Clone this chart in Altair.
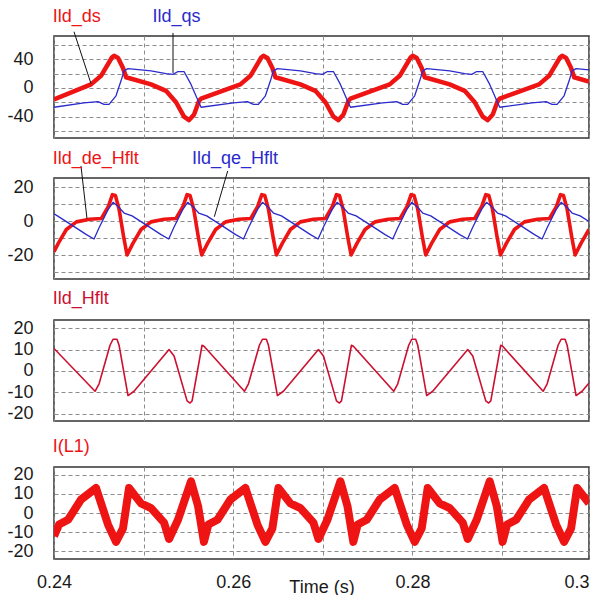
import altair as alt
import pandas as pd

# ---------------- data (time in ms) ----------------
ds_t = [240.00, 244.13, 245.25, 246.48, 246.70, 247.15, 247.70, 248.04, 250.83, 252.50, 253.62, 254.51, 255.07, 255.63, 256.19, 256.41,
        260.80, 261.92, 263.15, 263.37, 263.82, 264.37, 264.71, 267.50, 269.17, 270.29, 271.18, 271.74, 272.30, 272.86, 273.08,
        277.46, 278.58, 279.81, 280.03, 280.48, 281.03, 281.37, 284.16, 285.83, 286.95, 287.84, 288.40, 288.96, 289.52, 289.74,
        294.13, 295.25, 296.48, 296.70, 297.15, 297.70, 298.04, 299.70]
ds_v = [-16, 5, 17, 43, 45, 42, 28, 15, 5, -4, -20, -40, -45, -37, -18, -15,
        5, 17, 43, 45, 42, 28, 15, 5, -4, -20, -40, -45, -37, -18, -15,
        5, 17, 43, 45, 42, 28, 15, 5, -4, -20, -40, -45, -37, -18, -15,
        5, 17, 43, 45, 42, 28, 15, 9]

qs_t = [240.00, 243.35, 244.91, 245.58, 246.14, 246.92, 247.48, 247.82, 248.26, 250.83, 252.50, 253.28, 253.84, 254.51, 255.29, 256.08, 256.41,
        260.02, 261.58, 262.25, 262.81, 263.59, 264.15, 264.49, 264.93, 267.50, 269.17, 269.95, 270.51, 271.18, 271.96, 272.75, 273.08,
        276.68, 278.24, 278.91, 279.47, 280.25, 280.81, 281.15, 281.59, 284.16, 285.83, 286.61, 287.17, 287.84, 288.62, 289.41, 289.74,
        293.35, 294.91, 295.58, 296.14, 296.92, 297.48, 297.82, 298.26, 299.70]
qs_v = [-27, -21, -19, -23, -23, -11, 10, 24, 27, 24, 20, 19, 23, 23, 5, -18, -27,
        -21, -19, -23, -23, -11, 10, 24, 27, 24, 20, 19, 23, 23, 5, -18, -27,
        -21, -19, -23, -23, -11, 10, 24, 27, 24, 20, 19, 23, 23, 5, -18, -27,
        -21, -19, -23, -23, -11, 10, 24, 27, 25.3]

de_t = [240.00, 240.49, 241.38, 242.50, 243.95, 245.29, 246.07,
        246.52, 246.85, 247.26, 247.76, 248.15, 248.82, 249.71, 250.83, 252.28, 253.62, 254.40,
        254.85, 255.18, 255.59, 256.09, 256.48, 257.15, 258.04, 259.16, 260.61, 261.95, 262.73,
        263.19, 263.52, 263.93, 264.43, 264.82, 265.49, 266.38, 267.50, 268.95, 270.29, 271.07,
        271.52, 271.85, 272.26, 272.76, 273.15, 273.82, 274.71, 275.83, 277.28, 278.62, 279.40,
        279.85, 280.18, 280.59, 281.09, 281.48, 282.15, 283.04, 284.16, 285.61, 286.95, 287.73,
        288.19, 288.52, 288.93, 289.43, 289.82, 290.49, 291.38, 292.50, 293.95, 295.29, 296.07,
        296.52, 296.85, 297.26, 297.76, 298.15, 298.82, 299.70]
de_v = [-18, -13, -5, -0.5, 1, 1.5, 8.6,
        15.5, 15, 7, -9, -20, -13, -5, -0.5, 1, 1.5, 8.6,
        15.5, 15, 7, -9, -20, -13, -5, -0.5, 1, 1.5, 8.6,
        15.5, 15, 7, -9, -20, -13, -5, -0.5, 1, 1.5, 8.6,
        15.5, 15, 7, -9, -20, -13, -5, -0.5, 1, 1.5, 8.6,
        15.5, 15, 7, -9, -20, -13, -5, -0.5, 1, 1.5, 8.6,
        15.5, 15, 7, -9, -20, -13, -5, -0.5, 1, 1.5, 8.6,
        15.5, 15, 7, -9, -20, -13, -5]

qe_t = [240.00, 240.38, 242.16, 243.62,
        244.47, 245.03, 246.03, 246.59, 247.15, 247.82, 248.71, 250.49, 251.95,
        252.80, 253.36, 254.36, 254.92, 255.48, 256.15, 257.04, 258.82, 260.28,
        261.14, 261.70, 262.70, 263.26, 263.82, 264.49, 265.38, 267.16, 268.62,
        269.47, 270.03, 271.03, 271.59, 272.15, 272.82, 273.71, 275.49, 276.95,
        277.80, 278.36, 279.36, 279.92, 280.48, 281.15, 282.04, 283.82, 285.28,
        286.14, 286.70, 287.70, 288.26, 288.82, 289.49, 290.38, 292.16, 293.62,
        294.47, 295.03, 296.03, 296.59, 297.15, 297.82, 298.71, 299.70]
qe_v = [4.3, 3, -3, -8,
        -10.6, -4, 6.7, 11, 8.6, 4.7, 3, -3, -8,
        -10.6, -4, 6.7, 11, 8.6, 4.7, 3, -3, -8,
        -10.6, -4, 6.7, 11, 8.6, 4.7, 3, -3, -8,
        -10.6, -4, 6.7, 11, 8.6, 4.7, 3, -3, -8,
        -10.6, -4, 6.7, 11, 8.6, 4.7, 3, -3, -8,
        -10.6, -4, 6.7, 11, 8.6, 4.7, 3, -3, -8,
        -10.6, -4, 6.7, 11, 8.6, 4.7, 3, -0.3]

hf_t = [240.00,
        244.58, 245.03, 246.25, 246.59, 247.03, 247.26, 248.26, 248.93, 252.84, 253.40, 254.85, 255.18, 255.41, 256.52, 256.74,
        261.25, 261.70, 262.92, 263.26, 263.70, 263.93, 264.93, 265.60, 269.51, 270.07, 271.52, 271.85, 272.08, 273.19, 273.41,
        277.91, 278.36, 279.58, 279.92, 280.36, 280.59, 281.59, 282.26, 286.17, 286.73, 288.18, 288.51, 288.74, 289.85, 290.07,
        294.58, 295.03, 296.25, 296.59, 297.03, 297.26, 298.26, 298.93, 299.70]
hf_v = [10.5,
        -9.5, -6, 12, 14.8, 14.8, 12, -11.5, -9.5, 10, 7, -14, -15, -14, 12, 11.5,
        -9.5, -6, 12, 14.8, 14.8, 12, -11.5, -9.5, 10, 7, -14, -15, -14, 12, 11.5,
        -9.5, -6, 12, 14.8, 14.8, 12, -11.5, -9.5, 10, 7, -14, -15, -14, 12, 11.5,
        -9.5, -6, 12, 14.8, 14.8, 12, -11.5, -9.5, -5.7]

il_t = [240.00,
        240.56, 241.57, 243.02, 244.69, 246.03, 246.92, 247.70, 248.37, 249.71, 250.83, 252.28, 252.84, 253.84, 255.29, 256.08, 256.73,
        257.23, 258.24, 259.69, 261.36, 262.70, 263.59, 264.37, 265.04, 266.38, 267.50, 268.95, 269.51, 270.51, 271.96, 272.75, 273.40,
        273.89, 274.90, 276.35, 278.02, 279.36, 280.25, 281.03, 281.70, 283.04, 284.16, 285.61, 286.17, 287.17, 288.62, 289.41, 290.06,
        290.56, 291.57, 293.02, 294.69, 296.03, 296.92, 297.70, 298.37, 299.70]
il_v = [-12,
        -6, -3.5, 7, 13, -6, -15, -8, 13, 5, 2.5, -5, -13.5, -3.5, 16.5, 3.5, -15,
        -6, -3.5, 7, 13, -6, -15, -8, 13, 5, 2.5, -5, -13.5, -3.5, 16.5, 3.5, -15,
        -6, -3.5, 7, 13, -6, -15, -8, 13, 5, 2.5, -5, -13.5, -3.5, 16.5, 3.5, -15,
        -6, -3.5, 7, 13, -6, -15, -8, 13, 5]

# labels and leader lines (data coordinates)
lab1 = {"t": [239.85, 251.0], "v": [91.6, 91.6], "text": ["Ild_ds", "Ild_qs"], "c": ["red", "blue"]}
lead1 = {"t": [242.23, 253.28], "v": [78.7, 77.0], "t2": [244.13, 253.28], "v2": [6.0, 21.0]}
lab2 = {"t": [239.85, 255.4], "v": [33.7, 33.7], "text": ["Ild_de_Hflt", "Ild_qe_Hflt"], "c": ["red", "blue"]}
lead2 = {"t": [243.01, 259.38], "v": [32.4, 29.4], "t2": [243.68, 257.89], "v2": [1.5, 2.5]}
lab3 = {"t": [239.85], "v": [31.2], "text": ["Ild_Hflt"], "c": ["darkred"]}
lab4 = {"t": [239.85], "v": [31.7], "text": ["I(L1)"], "c": ["red"]}

x_domain = [240, 299.7]
x_ticks = [240, 250, 260, 270, 280, 290, 299.7]

# ---------------- styling ----------------
FONT = "Liberation Sans"
RED = "#ee1414"
BLUE = "#2b2bcc"
DRED = "#cc1030"
COLORS = {"red": RED, "blue": BLUE, "darkred": DRED}
W = 535


def xenc(show):
    if show:
        ax = alt.Axis(values=x_ticks, grid=True, ticks=False, domain=False,
                      labelExpr="datum.value == 240 ? '0.24' : datum.value == 260 ? '0.26' : datum.value == 280 ? '0.28' : datum.value > 299 ? '0.3' : ''",
                      labelAlign={"condition": {"test": "datum.value > 299", "value": "right"}, "value": "center"},
                      labelFontSize=18, labelPadding=14, labelBaseline="top",
                      title="Time (s)", titleX=W / 2, titleY=33, titleBaseline="alphabetic",
                      titleFontSize=18, titleFontWeight="normal", titleAlign="center")
    else:
        ax = alt.Axis(values=x_ticks, grid=True, ticks=False, domain=False, labels=False, title=None)
    return alt.X("t:Q", scale=alt.Scale(domain=x_domain, nice=False, zero=False), axis=ax)


def yenc(dom, vals, expr):
    ax = alt.Axis(values=vals, grid=True, ticks=False, domain=False, labelExpr=expr,
                  labelFontSize=18, labelPadding=21, title=None, labelBaseline="middle")
    return alt.Y("v:Q", scale=alt.Scale(domain=dom, nice=False, zero=False), axis=ax)


def line(t, v, color, width, dom, vals, expr, show):
    df = pd.DataFrame({"t": t, "v": v})
    return alt.Chart(df).mark_line(color=color, strokeWidth=width, clip=True, strokeJoin="round").encode(
        x=xenc(show), y=yenc(dom, vals, expr))


def labels(d, dom, vals, expr, show):
    df = pd.DataFrame(d)
    df["c"] = [COLORS[c] for c in df["c"]]
    return alt.Chart(df).mark_text(align="left", baseline="alphabetic", fontSize=18, font=FONT).encode(
        x=xenc(show), y=yenc(dom, vals, expr), text="text:N", color=alt.Color("c:N", scale=None))


def leaders(d, dom, vals, expr, show):
    df = pd.DataFrame(d)
    return alt.Chart(df).mark_rule(color="#111111", strokeWidth=1).encode(
        x=xenc(show), y=yenc(dom, vals, expr), x2="t2:Q", y2="v2:Q")


# panel 1
d1, g1, e1 = [-70, 72.7], [-60, -40, -20, 0, 20, 40, 60], "datum.value % 40 == 0 ? '' + datum.value : ''"
p1 = alt.layer(
    line(ds_t, ds_v, RED, 4.5, d1, g1, e1, False),
    line(qs_t, qs_v, BLUE, 1.3, d1, g1, e1, False),
    leaders(lead1, d1, g1, e1, False),
    labels(lab1, d1, g1, e1, False),
).properties(width=W, height=102)

# panel 2
d2, g2, e2 = [-34.1, 25.3], [-30, -20, -10, 0, 10, 20], "datum.value % 20 == 0 ? '' + datum.value : ''"
p2 = alt.layer(
    line(de_t, de_v, RED, 3.6, d2, g2, e2, False),
    line(qe_t, qe_v, BLUE, 1.3, d2, g2, e2, False),
    leaders(lead2, d2, g2, e2, False),
    labels(lab2, d2, g2, e2, False),
).properties(width=W, height=101)

# panel 3
d3, g3, e3 = [-23.4, 23.8], [-20, -10, 0, 10, 20], "'' + datum.value"
p3 = alt.layer(
    line(hf_t, hf_v, DRED, 1.6, d3, g3, e3, False),
    labels(lab3, d3, g3, e3, False),
).properties(width=W, height=101)

# panel 4
d4, g4, e4 = [-23.9, 23.9], [-20, -10, 0, 10, 20], "'' + datum.value"
p4 = alt.layer(
    line(il_t, il_v, RED, 8, d4, g4, e4, True),
    labels(lab4, d4, g4, e4, True),
).properties(width=W, height=92)


def spacer(h):
    return alt.Chart(pd.DataFrame({"t": [250.0]})).mark_point(opacity=0).encode(
        x=alt.X("t:Q", axis=None)).properties(width=W, height=h, view=alt.ViewBackground(stroke="transparent"))


chart = alt.vconcat(p1, spacer(2), p2, spacer(3), p3, spacer(8), p4, spacing=19, bounds="flush").properties(
    padding={"left": 6, "top": 7, "right": 0, "bottom": 0},
    background="white",
).configure_view(stroke="#333333", strokeWidth=1.5).configure_axis(
    gridColor="#8c8c8c", gridDash=[4, 3], gridWidth=1, labelFont=FONT, titleFont=FONT,
    labelColor="#1a1a1a", titleColor="#1a1a1a")

chart.save("out.html", embed_options={"renderer": "svg", "actions": False})
